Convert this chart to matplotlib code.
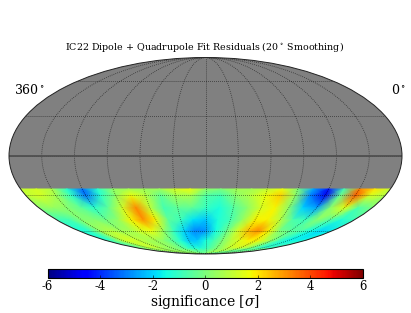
import numpy as np
import matplotlib
matplotlib.use("Agg")
import matplotlib.pyplot as plt
from matplotlib.cm import ScalarMappable
from matplotlib.colors import Normalize

plt.rcParams['font.family'] = 'DejaVu Serif'
plt.rcParams['mathtext.fontset'] = 'dejavuserif'
plt.rcParams['axes.unicode_minus'] = False

title = r"IC22 Dipole + Quadrupole Fit Residuals (20$^\circ$ Smoothing)"
cbar_label = r"significance [$\sigma$]"
cbar_ticks = [-6, -4, -2, 0, 2, 4, 6]
left_label = r"360$^\circ$"
right_label = r"0$^\circ$"

# longitude as displayed (left to right), degrees
lons = [-180,-165,-150,-135,-120,-105,-90,-75,-60,-45,-30,-15,0,15,30,45,60,75,90,105,120,135,150,165,180]
lats = [-25,-30,-40,-50,-60,-70,-80,-90]
row_25 = [1.0,1.3,0.8,-1.2,-3.2,-1.2,0.3,0.6,0.5,0.5,1.3,1.6,0.3,0.0,0.6,0.6,1.0,1.6,0.0,-2.5,-4.3,-0.8,3.3,2.0,1.0]
row_30 = [1.0,1.3,0.6,-1.0,-3.2,-1.2,0.3,1.6,0.8,-0.4,0.6,0.7,-.6,-0.8,0.2,0.8,1.6,2.3,0.3,-3,-4.8,-0.3,3.8,1.4,0.8]
row_40 = [.2,.4,.2,-.4,-1.2,-.4,1.2,3.2,1,-.8,-.4,-.4,-1,-1.4,-.6,.2,1.3,1.8,0.2,-2,-2.6,.2,1.5,-.7,.0]
row_50 = [-.8,-.8,.1,.1,-.2,.4,1.8,3.1,1.8,-.4,-.9,-1.8,-2.2,-1.4,-.8,.4,1.8,1.8,.9,-.7,-1.0,0.2,-.5,-1.3,-.8]
row_60 = [-1.4,-1.2,.4,.8,.5,.7,1.4,1.6,.5,-1,-2,-3,-2.8,-1.5,-.3,1.2,2.5,3.2,1.8,0,-.5,-.7,-1.5,-2,-1.6]
row_70 = [-1.4,-.6,1.0,1.4,1,.7,.6,.2,-.5,-1.3,-2.2,-2.2,-1.5,-.8,0,.8,1.4,1.8,1.9,1.3,0.3,-1,-1.6,-1.6,-1.5]
row_80 = [.0,.3,.8,.9,.7,.4,.2,0,-.5,-1,-1.3,-1.3,-1,-.5,0,.4,.9,1,1,.7,.2,-.4,-.8,-.8,-.5]
row_90 = [.2,.2,.2,.2,.2,.2,.2,.2,.2,.2,.2,.2,.2,.2,.2,.2,.2,.2,.2,.2,.2,.2,.2,.2,.2]

values = np.array([row_25,row_30,row_40,row_50,row_60,row_70,row_80,row_90])

W, H = 411, 313
fig = plt.figure(figsize=(W/100, H/100), dpi=100)
ax = fig.add_axes([9/W, (H-254)/H, 393/W, 196.5/H], projection='mollweide')
ax.set_facecolor('#808080')
norm = Normalize(-6, 6)
lon_r = np.radians(lons)
lat_r = np.radians(lats)
ax.pcolormesh(lon_r*0.9999, lat_r*0.9999, values, cmap='jet', norm=norm, shading='gouraud', zorder=1)
ax.set_longitude_grid(30)
ax.set_latitude_grid(30)
ax.set_longitude_grid_ends(90)
ax.grid(True, color='black', linestyle=':', linewidth=0.55, alpha=0.7, zorder=3)
ax.set_xticklabels([])
ax.set_yticklabels([])
ax.plot(np.radians([-179.9, 179.9]), [0, 0], color='#505050', linewidth=1.3, zorder=2)
for s in ax.spines.values():
    s.set_linewidth(0.7)
    s.set_edgecolor('#222222')

fig.text(205/W, 1-47.5/H, title, ha='center', va='center', fontsize=6.85)
fig.text(14/W, 1-90/H, left_label, ha='left', va='center', fontsize=9)
fig.text(391/W, 1-90/H, right_label, ha='left', va='center', fontsize=9)

cax = fig.add_axes([47.5/W, (H-278)/H, 315.5/W, 9/H])
cb = fig.colorbar(ScalarMappable(norm=norm, cmap='jet'), cax=cax, orientation='horizontal', ticks=cbar_ticks)
cb.ax.tick_params(direction='in', length=2.5, width=0.4, labelsize=8.4, pad=1.5)
cb.outline.set_linewidth(0.8)
cb.set_label(cbar_label, fontsize=10, labelpad=0)
fig.savefig('out.png', dpi=100)
